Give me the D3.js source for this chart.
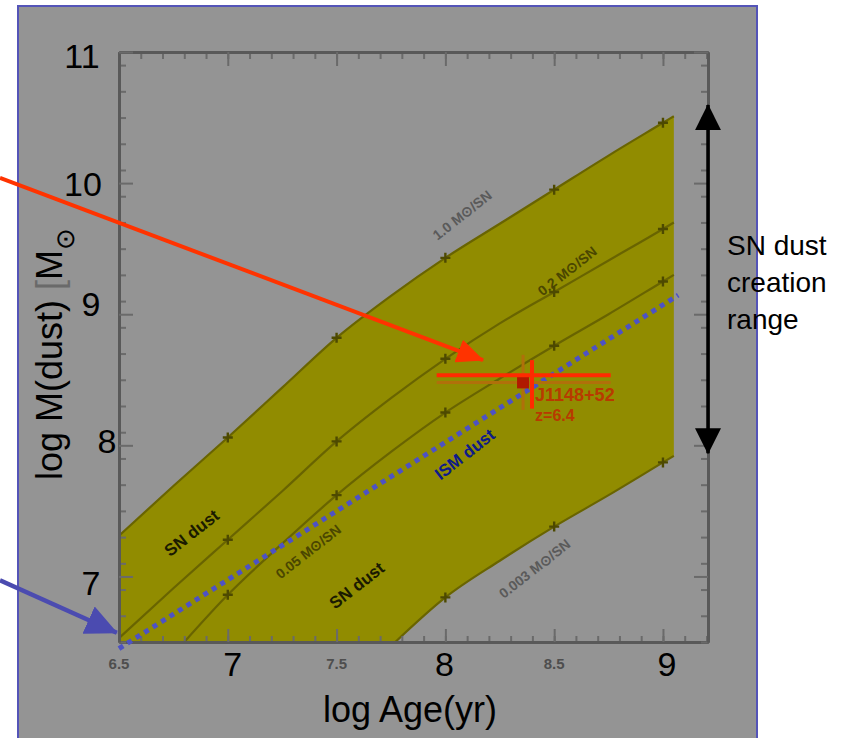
<!DOCTYPE html>
<html><head><meta charset="utf-8">
<script src="https://cdn.jsdelivr.net/npm/d3@7"></script>
<style>
body{margin:0;background:#fff;}
svg{display:block;}
text{font-family:"Liberation Sans",Arial,Helvetica,sans-serif;}
</style>
</head><body>
<svg id="c" width="863" height="738"></svg>
<script>
// ---------------- data ----------------
const ages        = [6.5, 6.75, 7.0, 7.25, 7.5, 7.75, 8.0, 8.25, 8.5, 8.75, 9.0, 9.05];
const yield1p0    = [7.31, 7.69, 8.06, 8.44, 8.82, 9.14, 9.43, 9.69, 9.95, 10.21, 10.46, 10.51];
const yield0p2    = [6.53, 6.91, 7.28, 7.65, 8.03, 8.36, 8.66, 8.93, 9.17, 9.41, 9.65, 9.70];
const ages0p05    = [6.8, 7.0, 7.25, 7.5, 7.75, 8.0, 8.25, 8.5, 8.75, 9.0, 9.05];
const yield0p05   = [6.5, 6.86, 7.25, 7.62, 7.95, 8.25, 8.51, 8.76, 9.0, 9.25, 9.30];
const ages0p003   = [7.77, 8.0, 8.25, 8.5, 8.75, 9.0, 9.05];
const yield0p003  = [6.5, 6.84, 7.12, 7.38, 7.62, 7.87, 7.92];
const markerAges  = [7.0, 7.5, 8.0, 8.5, 9.0];
const ismAges     = [6.5, 9.07];
const ismDust     = [6.45, 9.145];
const j1148Age    = [8.357, 7.96, 8.76];   // centre, low, high
const j1148Mass   = [8.48, 8.27, 8.69];
const j1148Mark   = [8.398, 8.534];
const bigAgeLabels   = [7, 8, 9];
const smallAgeLabels = [6.5, 7.5, 8.5];
const bigMassLabels  = [11, 10, 9, 8, 7];
const curveNames  = ["1.0 M\u2299/SN", "0.2 M\u2299/SN", "0.05 M\u2299/SN", "0.003 M\u2299/SN"];
const snRange     = [10.595, 7.94];

// ---------------- layout ----------------
const svg = d3.select("#c");
const x = d3.scaleLinear().domain([6.5, 9.207]).range([119, 708]);
const y = d3.scaleLinear().domain([6.5, 11]).range([642, 52]);

const defs = svg.append("defs");
function arrowMarker(id, color, len, half) {
  defs.append("marker").attr("id", id)
    .attr("markerUnits", "userSpaceOnUse")
    .attr("viewBox", `0 ${-half} ${len} ${half*2}`)
    .attr("refX", len - 1).attr("refY", 0)
    .attr("markerWidth", len).attr("markerHeight", half*2)
    .attr("orient", "auto-start-reverse")
    .append("path").attr("d", `M0,${-half}L${len},0L0,${half}Z`).attr("fill", color);
}
arrowMarker("arRed", "#ff3300", 27, 12);
arrowMarker("arBlue", "#4b4bb0", 32, 15);
arrowMarker("arBlack", "#000", 26, 13);

// panel
svg.append("rect").attr("x", 18).attr("y", 6).attr("width", 739).attr("height", 745)
  .attr("fill", "#949494").attr("stroke", "#5454b8").attr("stroke-width", 2);

// yellow region
const upperPts = ages.map((a, i) => [x(a), y(yield1p0[i])]);
const lowerPts = ages0p003.map((a, i) => [x(a), y(yield0p003[i])]).reverse();
const lineGen = d3.line().curve(d3.curveMonotoneX);
const regionPath = lineGen(upperPts) + "L" + lineGen(lowerPts).slice(1) +
  `L${x(6.5)},${y(6.5)}Z`;
svg.append("path").attr("d", regionPath).attr("fill", "#918c00");

// curves
const curves = [
  {a: ages, v: yield1p0},
  {a: ages, v: yield0p2},
  {a: ages0p05, v: yield0p05},
  {a: ages0p003, v: yield0p003}
];
curves.forEach(c => {
  svg.append("path").attr("d", lineGen(c.a.map((a, i) => [x(a), y(c.v[i])])))
    .attr("fill", "none").attr("stroke", "#696400").attr("stroke-width", 2.2);
  c.a.forEach((a, i) => {
    if (markerAges.includes(a) && c.v[i] > 6.5) {
      const g = svg.append("g").attr("transform", `translate(${x(a)},${y(c.v[i])})`);
      g.append("path").attr("d", "M-5,0H5M0,-5V5").attr("stroke", "#4d4900").attr("stroke-width", 2.4);
    }
  });
});

// axes frame with inward ticks
const xMajor = d3.range(13, 19).map(v => v / 2).filter(v => v <= 9.2);
const xMinor = d3.range(65, 93).map(v => v / 10);
const yMajor = [7, 8, 9, 10, 11];
const yMinor = d3.range(65, 111, 2).map(v => v / 10);
function styleAxis(g) {
  g.selectAll("text").remove();
  g.select(".domain").attr("stroke", "#595959").attr("stroke-width", 3);
  g.selectAll(".tick line").attr("stroke", "#6a6a6a").attr("stroke-width", 2);
}
const axDefs = [
  [d3.axisBottom(x), `translate(0,${y(6.5)})`, xMajor, xMinor, 13, 6],
  [d3.axisTop(x), `translate(0,${y(11)})`, xMajor, xMinor, 14, 7],
  [d3.axisLeft(y), `translate(${x(6.5)},0)`, yMajor, yMinor, 14, 7],
  [d3.axisRight(y), `translate(${x(9.207)},0)`, yMajor, yMinor, 14, 7]
];
axDefs.forEach(([ax, tr, maj, min, lm, ln]) => {
  svg.append("g").attr("transform", tr)
    .call(ax.tickValues(min).tickSizeInner(-ln).tickSizeOuter(0).tickFormat(""))
    .call(styleAxis);
  svg.append("g").attr("transform", tr)
    .call(ax.tickValues(maj).tickSizeInner(-lm).tickSizeOuter(0).tickFormat(""))
    .call(styleAxis);
});

// blue dotted line
svg.append("path").attr("d", d3.line()(ismAges.map((a, i) => [x(a), y(ismDust[i])])))
  .attr("fill", "none").attr("stroke", "#4d52c4").attr("stroke-width", 5)
  .attr("stroke-dasharray", "5 5");

// curve labels
const lab = svg.append("g").attr("font-weight", "bold");
const curveLabelCfg = [
  {t: curveNames[0], ax: 8.077, my: 9.756, c: "#5a5a5a", fs: 14},
  {t: curveNames[1], ax: 8.56, my: 9.33, c: "#4a4600", fs: 14},
  {t: curveNames[2], ax: 7.37, my: 7.19, c: "#4a4600", fs: 14},
  {t: curveNames[3], ax: 8.41, my: 7.06, c: "#5a5a5a", fs: 14},
  {t: "SN dust", ax: 6.835, my: 7.33, c: "#1a1a00", fs: 17},
  {t: "SN dust", ax: 7.594, my: 6.93, c: "#1a1a00", fs: 17},
  {t: "ISM dust", ax: 8.09, my: 7.93, c: "#0d1a8a", fs: 17}
];
curveLabelCfg.forEach(d => {
  lab.append("text").attr("transform", `translate(${x(d.ax)},${y(d.my)}) rotate(-38)`)
    .attr("text-anchor", "middle").attr("dominant-baseline", "central")
    .attr("font-size", d.fs).attr("fill", d.c).text(d.t);
});

// original J1148 point (faded)
svg.append("line").attr("x1", x(j1148Age[1])).attr("x2", x(j1148Age[2]))
  .attr("y1", y(j1148Mass[0])).attr("y2", y(j1148Mass[0]))
  .attr("stroke", "#b0700a").attr("stroke-width", 3);
svg.append("line").attr("x1", x(j1148Age[0])).attr("x2", x(j1148Age[0]))
  .attr("y1", y(j1148Mass[1])).attr("y2", y(j1148Mass[2]))
  .attr("stroke", "#b0700a").attr("stroke-width", 3);
svg.append("rect").attr("x", x(j1148Age[0]) - 6).attr("y", y(j1148Mass[0]) - 6)
  .attr("width", 12).attr("height", 12).attr("fill", "#b01a00");
svg.append("text").attr("x", x(j1148Age[0]) + 12).attr("y", y(j1148Mass[0]) + 19)
  .attr("font-size", 18).attr("font-weight", "bold").attr("fill", "#b83a00").text("J1148+52");
svg.append("text").attr("x", x(j1148Age[0]) + 12).attr("y", y(j1148Mass[0]) + 39)
  .attr("font-size", 16).attr("font-weight", "bold").attr("fill", "#b83a00").text("z=6.4");

// bright red cross
svg.append("line").attr("x1", x(j1148Age[1])).attr("x2", x(j1148Age[2]))
  .attr("y1", y(j1148Mark[1])).attr("y2", y(j1148Mark[1]))
  .attr("stroke", "#ff2a00").attr("stroke-width", 4);
svg.append("line").attr("x1", x(j1148Mark[0])).attr("x2", x(j1148Mark[0]))
  .attr("y1", y(8.65)).attr("y2", y(8.28))
  .attr("stroke", "#ff2a00").attr("stroke-width", 4);

// annotation arrows
svg.append("line").attr("x1", x(5.953)).attr("y1", y(10.04)).attr("x2", x(8.173)).attr("y2", y(8.65))
  .attr("stroke", "#ff3300").attr("stroke-width", 4).attr("marker-end", "url(#arRed)");
svg.append("line").attr("x1", x(5.953)).attr("y1", y(6.97)).attr("x2", x(6.49)).attr("y2", y(6.57))
  .attr("stroke", "#4b4bb0").attr("stroke-width", 4.5).attr("marker-end", "url(#arBlue)");
svg.append("line").attr("x1", x(9.207)).attr("x2", x(9.207))
  .attr("y1", y(snRange[0])).attr("y2", y(snRange[1]))
  .attr("stroke", "#000").attr("stroke-width", 3.5)
  .attr("marker-start", "url(#arBlack)").attr("marker-end", "url(#arBlack)");

// SN range text
const snT = svg.append("text").attr("font-size", 28).attr("fill", "#000");
["SN dust", "creation", "range"].forEach((t, i) => {
  snT.append("tspan").attr("x", 727).attr("y", 255 + i * 37).text(t);
});

// small original tick labels (faded)
smallAgeLabels.forEach(v => {
  svg.append("text").attr("x", x(v)).attr("y", 669).attr("text-anchor", "middle")
    .attr("font-size", 15).attr("font-weight", "bold").attr("fill", "#4e4e4e").text(v.toFixed(1));
});

// big labels
const ageNudge = [5, -1, 4];
bigAgeLabels.forEach((v, i) => {
  svg.append("text").attr("x", x(v) + ageNudge[i]).attr("y", 664).attr("text-anchor", "middle")
    .attr("dominant-baseline", "central").attr("font-size", 34).attr("fill", "#000").text(v);
});
const massNudge = [[82, 4], [83, 1], [91, -10], [107, -4], [91, 7]];
bigMassLabels.forEach((v, i) => {
  svg.append("text").attr("x", massNudge[i][0]).attr("y", y(v) + massNudge[i][1])
    .attr("text-anchor", "middle").attr("dominant-baseline", "central")
    .attr("font-size", 34).attr("fill", "#000").text(v);
});

// axis titles
svg.append("text").attr("x", 410).attr("y", 722).attr("text-anchor", "middle")
  .attr("font-size", 36).attr("fill", "#000").text("log Age(yr)");
const yt = svg.append("text").attr("transform", "translate(62,480) rotate(-90)")
  .attr("font-size", 36).attr("fill", "#000");
yt.append("tspan").text("log M(dust) ");
yt.append("tspan").attr("fill", "#6a6a6a").text("[");
yt.append("tspan").text("M");
yt.append("tspan").attr("font-size", 26).attr("dy", 12).text("\u2299");
</script>
</body></html>
